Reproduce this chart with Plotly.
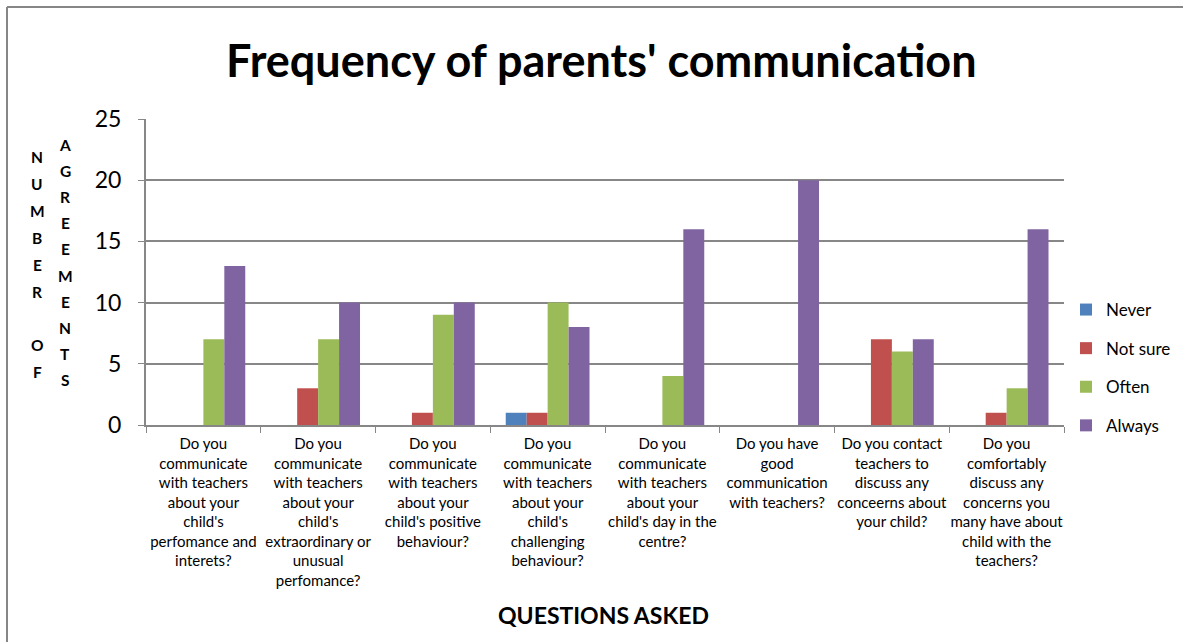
import plotly.graph_objects as go

# Survey questions (category axis), wrapped as they appear under the axis
questions = [
    "Do you<br>communicate<br>with teachers<br>about your<br>child's<br>perfomance and<br>interets?",
    "Do you<br>communicate<br>with teachers<br>about your<br>child's<br>extraordinary or<br>unusual<br>perfomance?",
    "Do you<br>communicate<br>with teachers<br>about your<br>child's positive<br>behaviour?",
    "Do you<br>communicate<br>with teachers<br>about your<br>child's<br>challenging<br>behaviour?",
    "Do you<br>communicate<br>with teachers<br>about your<br>child's day in the<br>centre?",
    "Do you have<br>good<br>communication<br>with teachers?",
    "Do you contact<br>teachers to<br>discuss any<br>conceerns about<br>your child?",
    "Do you<br>comfortably<br>discuss any<br>concerns you<br>many have about<br>child with the<br>teachers?",
]

never = [0, 0, 0, 1, 0, 0, 0, 0]
not_sure = [0, 3, 1, 1, 0, 0, 7, 1]
often = [7, 7, 9, 10, 4, 0, 6, 3]
always = [13, 10, 10, 8, 16, 20, 7, 16]

series = [
    ("Never", never, "#4F81BD"),
    ("Not sure", not_sure, "#C0504D"),
    ("Often", often, "#9BBB59"),
    ("Always", always, "#8064A2"),
]

FONT = "Lato, 'Open Sans', sans-serif"
W, H = 1183, 642
L, R, T, B = 146, 119, 119, 217
plot_w = W - L - R
plot_h = H - T - B


def px_x(px):
    return (px - L) / plot_w


def px_y(py):
    return (H - B - py) / plot_h


fig = go.Figure()
for name, vals, color in series:
    fig.add_trace(go.Bar(
        name=name,
        legendgroup=name,
        x=questions,
        y=vals,
        marker=dict(color=color, line=dict(width=0)),
    ))

annotations = [
    dict(text="<b>Frequency of parents' communication</b>", x=px_x(601), y=px_y(60),
         xref="paper", yref="paper", showarrow=False,
         font=dict(family=FONT, size=45, color="#000000"), xanchor="center", yanchor="middle"),
    dict(text="<b>QUESTIONS ASKED</b>", x=px_x(603), y=px_y(615),
         xref="paper", yref="paper", showarrow=False,
         font=dict(family=FONT, size=23, color="#000000"), xanchor="center", yanchor="middle"),
]

# Stacked-letter y-axis title in two columns
col1 = list("NUMBER") + [""] + list("OF")
col2 = list("AGREEMENTS")
for i, ch in enumerate(col1):
    if ch:
        annotations.append(dict(text=f"<b>{ch}</b>", x=px_x(37), y=px_y(157 + i * 26.9),
                                xref="paper", yref="paper", showarrow=False,
                                font=dict(family=FONT, size=15.5, color="#000000"),
                                xanchor="center", yanchor="middle"))
for i, ch in enumerate(col2):
    annotations.append(dict(text=f"<b>{ch}</b>", x=px_x(65), y=px_y(145 + i * 26.1),
                            xref="paper", yref="paper", showarrow=False,
                            font=dict(family=FONT, size=15.5, color="#000000"),
                            xanchor="center", yanchor="middle"))

# Chart-area frame (left and top edges)
shapes = [
    dict(type="line", xref="paper", yref="paper", x0=px_x(7), x1=px_x(1200),
         y0=px_y(7), y1=px_y(7), line=dict(color="#868686", width=2)),
    dict(type="line", xref="paper", yref="paper", x0=px_x(7), x1=px_x(7),
         y0=px_y(7), y1=px_y(660), line=dict(color="#868686", width=2)),
]

fig.update_layout(
    width=W, height=H,
    margin=dict(l=L, r=R, t=T, b=B, pad=0, autoexpand=False),
    paper_bgcolor="white", plot_bgcolor="white",
    barmode="group", bargap=0.27, bargroupgap=0,
    font=dict(family=FONT, color="#000000"),
    annotations=annotations,
    shapes=shapes,
    legend=dict(x=px_x(1066), y=px_y(292), xanchor="left", yanchor="top",
                font=dict(family=FONT, size=17, color="#000000"),
                tracegroupgap=13.5, itemwidth=30, traceorder="grouped",
                bgcolor="rgba(0,0,0,0)"),
    xaxis=dict(
        type="category",
        showgrid=False, showline=True, linecolor="#878787", linewidth=2,
        ticks="outside", tickson="boundaries", ticklen=6, tickcolor="#878787", tickwidth=1,
        tickfont=dict(family=FONT, size=15, color="#000000"),
        tickangle=0, ticklabelstandoff=4,
    ),
    yaxis=dict(
        range=[0, 25], dtick=5, tick0=0,
        showgrid=True, gridcolor="#878787", gridwidth=1.5,
        showline=True, linecolor="#878787", linewidth=2,
        ticks="outside", ticklen=6, tickcolor="#878787",
        tickfont=dict(family=FONT, size=23, color="#000000"),
        ticklabelstandoff=12,
        zeroline=False,
    ),
)

fig.write_html("out.html")
